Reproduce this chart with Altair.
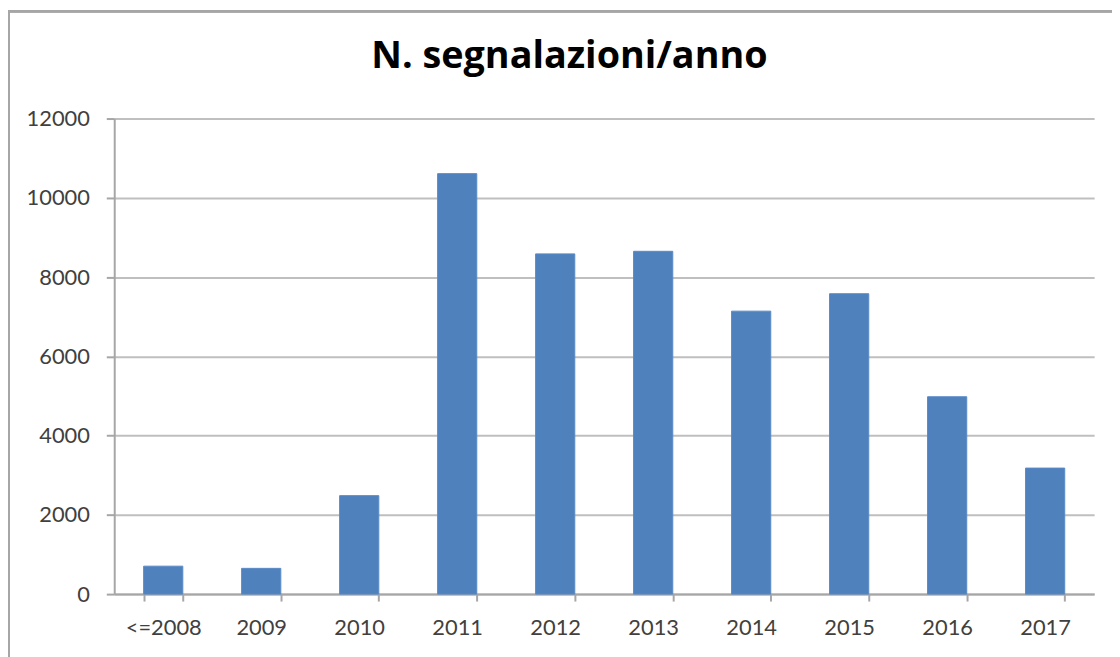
import altair as alt
import pandas as pd

categories = ["<=2008", "2009", "2010", "2011", "2012", "2013", "2014", "2015", "2016", "2017"]
values = [705, 650, 2485, 10610, 8585, 8650, 7140, 7580, 4980, 3180]
y_ticks = [0, 2000, 4000, 6000, 8000, 10000, 12000]
title_text = "N. segnalazioni/anno"

df = pd.DataFrame({"anno": categories, "n": values})

W, H = 987, 479
FONT = "Lato"

bars = alt.Chart(df).mark_bar(color="#4F81BD", stroke="#5A8AC6", strokeWidth=1).encode(
    x=alt.X("anno:N", sort=categories,
            scale=alt.Scale(paddingInner=0.6, paddingOuter=0.3),
            axis=alt.Axis(title=None, labelAngle=0, tickBand="extent",
                          labelFont=FONT, labelFontSize=22, labelColor="#404040",
                          labelPadding=17, tickSize=7, tickColor="#A6A6A6",
                          domainColor="#A6A6A6", domainWidth=2, tickWidth=2, grid=False)),
    y=alt.Y("n:Q", scale=alt.Scale(domain=[0, 12000], nice=False),
            axis=alt.Axis(title=None, values=y_ticks, format="d",
                          labelFont=FONT, labelFontSize=22, labelColor="#404040",
                          labelPadding=17, tickSize=8, tickColor="#A6A6A6", tickWidth=2,
                          domainColor="#A6A6A6", domainWidth=2,
                          gridColor="#BFBFBF", gridWidth=2)),
)

frame = alt.Chart(df).mark_rect(fill=None, stroke="#A6A6A6", strokeWidth=2).encode(
    x=alt.value(-106), x2=alt.value(1040),
    y=alt.value(-108), y2=alt.value(600),
)

chart = alt.layer(frame, bars).properties(
    width=W, height=H,
    autosize=alt.AutoSizeParams(type="none"),
    padding={"left": 107, "top": 109, "right": 18, "bottom": 61},
    title=alt.TitleParams(title_text, font="Open Sans", fontSize=38, fontWeight="bold",
                          color="#000000", anchor="middle", dx=-35, offset=-96,
                          baseline="alphabetic"),
).configure_view(stroke=None)

chart.save("out.html", embed_options={"renderer": "svg", "actions": False})
